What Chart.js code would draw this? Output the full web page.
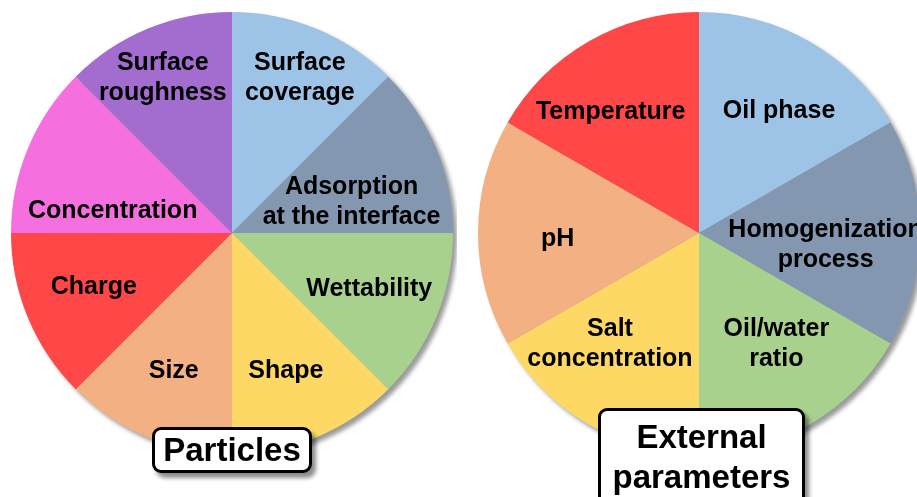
<!DOCTYPE html>
<html>
<head>
<meta charset="utf-8">
<script src="https://cdn.jsdelivr.net/npm/chart.js@4"></script>
<style>
    body { margin: 0; width: 917px; height: 497px; overflow: hidden; background: #fff; position: relative; font-family: "Liberation Sans", Arial, sans-serif; }
    .pie { position: absolute; width: 450px; height: 450px; }
    .tag { position: absolute; box-sizing: border-box; background: #fff; border: 3px solid #000; border-radius: 9px;
           box-shadow: 4px 5px 4px rgba(0,0,0,0.45); font-weight: bold; font-size: 33px; text-align: center; color: #000; }
</style>
</head>
<body>
<div class="pie" style="left:7px; top:8px;"><canvas id="particles"></canvas></div>
<div class="pie" style="left:474px; top:8px;"><canvas id="external"></canvas></div>
<div class="tag" style="left:152px; top:427px; width:160px; height:46px; line-height:40px;">Particles</div>
<div class="tag" style="left:598px; top:408px; width:207px; height:100px; line-height:40px; padding-top:6px;">External<br>parameters</div>

<script>
// slices run clockwise from 12 o'clock, all the same size
const particleLabels = [['Surface', 'coverage'], ['Adsorption', 'at the interface'], ['Wettability'], ['Shape'],
                        ['Size'], ['Charge'], ['Concentration'], ['Surface', 'roughness']];
const particleValues = [1, 1, 1, 1, 1, 1, 1, 1];
const particleColors = ['#9DC3E6', '#8497B0', '#A9D18E', '#FDD865', '#F3B083', '#FF4747', '#F66FDF', '#A36DD0'];

const externalLabels = [['Oil phase'], ['Homogenization', 'process'], ['Oil/water', 'ratio'],
                        ['Salt', 'concentration'], ['pH'], ['Temperature']];
const externalValues = [1, 1, 1, 1, 1, 1];
const externalColors = ['#9DC3E6', '#8497B0', '#A9D18E', '#FDD865', '#F3B083', '#FF4747'];

// grey drop shadow behind the whole pie
const pieShadow = {
    id: 'pieShadow',
    beforeDatasetsDraw(chart) {
        const arc = chart.getDatasetMeta(0).data[0];
        const ctx = chart.ctx;
        ctx.save();
        ctx.filter = 'blur(2px)';
        ctx.fillStyle = '#9a9a9a';
        ctx.beginPath();
        ctx.arc(arc.x + 4, arc.y + 4, arc.outerRadius, 0, Math.PI * 2);
        ctx.fill();
        ctx.restore();
    }
};

// text inside each slice, placed along the slice's middle angle
const sliceText = {
    id: 'sliceText',
    afterDatasetsDraw(chart, args, opts) {
        const ctx = chart.ctx;
        const labels = chart.data.labels;
        ctx.save();
        ctx.font = 'bold 25px "Liberation Sans", Arial, sans-serif';
        ctx.fillStyle = '#000';
        ctx.textAlign = 'center';
        ctx.textBaseline = 'middle';
        chart.getDatasetMeta(0).data.forEach((arc, i) => {
            const a = (arc.startAngle + arc.endAngle) / 2 + (opts.turn[i] || 0) * Math.PI / 180;
            const r = arc.outerRadius * opts.dist[i];
            const x = arc.x + r * Math.cos(a);
            const y = arc.y + r * Math.sin(a);
            const lines = labels[i];
            lines.forEach((t, k) => {
                ctx.fillText(t, x, y + 1 + (k - (lines.length - 1) / 2) * 30);
            });
        });
        ctx.restore();
    }
};

function drawPie(id, labels, values, colors, dist, turn) {
    new Chart(document.getElementById(id), {
        type: 'pie',
        data: {
            labels: labels,
            datasets: [{
                data: values,
                backgroundColor: colors,
                borderWidth: 0
            }]
        },
        options: {
            responsive: true,
            maintainAspectRatio: false,
            animation: false,
            layout: { padding: 4 },
            plugins: {
                legend: { display: false },
                tooltip: { enabled: false },
                sliceText: { dist: dist, turn: turn }
            }
        },
        plugins: [pieShadow, sliceText]
    });
}

drawPie('particles', particleLabels, particleValues, particleColors,
        [0.77, 0.56, 0.67, 0.665, 0.675, 0.67, 0.55, 0.77],
        [1, 7.5, -0.5, 1, 0.5, 1.5, -11.5, -1.5]);

drawPie('external', externalLabels, externalValues, externalColors,
        [0.665, 0.575, 0.61, 0.64, 0.64, 0.68],
        [3, 5, -5, 9, -2, -6]);
</script>
</body>
</html>
